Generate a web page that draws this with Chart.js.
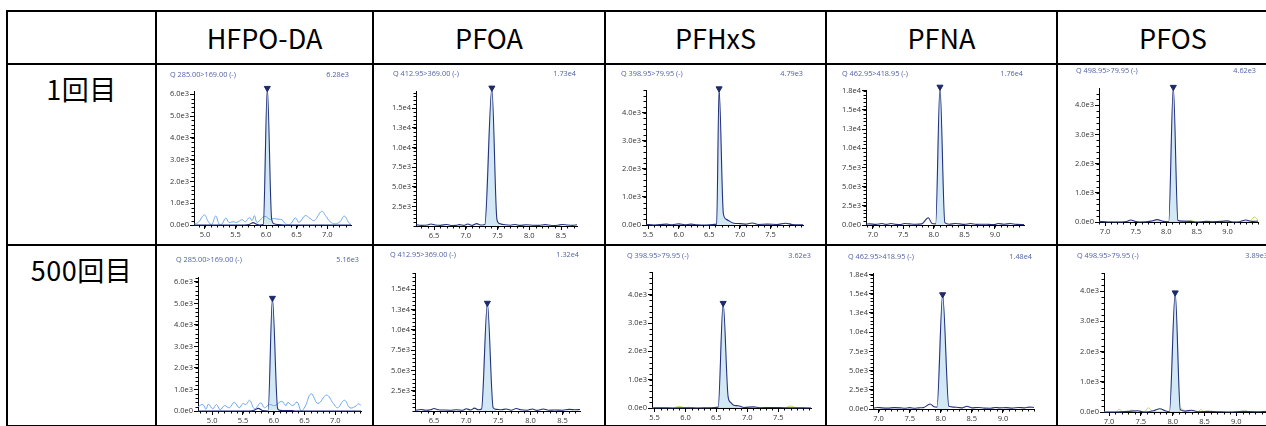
<!DOCTYPE html>
<html>
<head>
<meta charset="utf-8">
<script src="https://cdn.jsdelivr.net/npm/chart.js@4.4.1/dist/chart.umd.min.js"></script>
<style>
  body { margin: 0; width: 1266px; height: 426px; overflow: hidden; background: #fff; position: relative;
         font-family: "Noto Sans CJK JP", "Noto Sans", sans-serif; }
  #grid { position: absolute; left: 6px; top: 10px; display: grid;
          grid-template-columns: 149px 217px 232px 221px 231px 232px;
          grid-template-rows: 53px 181px 181px;
          border-left: 2px solid #000; border-top: 2px solid #000; }
  .cell { box-sizing: border-box; border-right: 2px solid #000; border-bottom: 2px solid #000; }
  .head { display: flex; align-items: center; justify-content: center; font-size: 27px; color: #000; }
  .run { text-align: center; padding-top: 9px; line-height: 30px; font-size: 27px; color: #000; letter-spacing: 0.5px; }
  .chrom { position: absolute; }
  .lbl { position: absolute; font-family: "Open Sans", sans-serif; font-size: 7.3px; line-height: 10px;
         color: #4f5fa5; white-space: nowrap; }
</style>
</head>
<body>
<div id="grid"></div>
<script>
// ---- table text ----
const compounds = ['HFPO-DA', 'PFOA', 'PFHxS', 'PFNA', 'PFOS'];
const runs = ['1回目', '500回目'];
const transitions = ['Q 285.00>169.00 (-)', 'Q 412.95>369.00 (-)', 'Q 398.95>79.95 (-)',
                     'Q 462.95>418.95 (-)', 'Q 498.95>79.95 (-)'];
const maxLabels1 = ['6.28e3', '1.73e4', '4.79e3', '1.76e4', '4.62e3'];
const maxLabels2 = ['5.16e3', '1.32e4', '3.62e3', '1.48e4', '3.89e3'];

// ---- tick labels ----
const hfpoXTicks = [5.0, 5.5, 6.0, 6.5, 7.0];
const hfpoYTicks = [0, 1000, 2000, 3000, 4000, 5000, 6000];
const pfoaXTicks = [6.5, 7.0, 7.5, 8.0, 8.5];
const pfoaYTicks = [2500, 5000, 7500, 10000, 12500, 15000];
const pfhxsXTicks = [5.5, 6.0, 6.5, 7.0, 7.5];
const pfhxsYTicks = [0, 1000, 2000, 3000, 4000];
const pfnaXTicks = [7.0, 7.5, 8.0, 8.5, 9.0];
const pfnaYTicks = [0, 2500, 5000, 7500, 10000, 12500, 15000, 17500];
const pfosXTicks = [7.0, 7.5, 8.0, 8.5, 9.0];
const pfosYTicks = [0, 1000, 2000, 3000, 4000];

// ---- traces [time (min), intensity] ----
const hfpo1Main = [[4.82,0],[5.3,0],[5.65,0],[5.72,20],[5.79,110],[5.84,40],[5.9,0],[5.955,30],[6.02,6280],
  [6.09,300],[6.13,60],[6.2,20],[6.3,0],[6.8,0],[7.39,0]];
const hfpo1Noise = [[4.825,50],[4.89,120],[4.99,460],[5.055,150],[5.11,20],[5.175,410],[5.23,50],[5.27,20],
  [5.34,320],[5.39,120],[5.46,150],[5.52,120],[5.61,245],[5.66,150],[5.73,350],[5.77,200],[5.81,430],[5.85,120],
  [5.92,275],[5.98,400],[6.07,250],[6.12,300],[6.17,275],[6.26,240],[6.32,50],[6.39,20],[6.48,320],[6.54,120],
  [6.64,430],[6.72,300],[6.79,200],[6.91,630],[6.98,400],[7.05,150],[7.13,50],[7.21,150],[7.28,410],[7.35,120],[7.39,20]];
const pfoa1Main = [[6.22,150],[6.3,80],[6.4,120],[6.45,250],[6.52,120],[6.6,80],[6.7,200],[6.78,60],[6.85,80],
  [6.9,180],[6.97,80],[7.03,250],[7.1,80],[7.17,300],[7.23,120],[7.3,200],[7.41,17600],[7.49,800],[7.53,300],
  [7.62,150],[7.7,100],[7.78,200],[7.85,80],[7.95,150],[8.05,100],[8.15,80],[8.25,180],[8.35,60],[8.45,100],
  [8.52,200],[8.6,120],[8.68,80],[8.75,150]];
const pfhxs1Main = [[5.467,20],[5.6,0],[5.8,30],[5.9,10],[6.0,40],[6.1,10],[6.2,30],[6.3,10],[6.45,0],[6.62,30],
  [6.66,4850],[6.73,400],[6.78,200],[6.9,60],[7.0,50],[7.1,30],[7.2,70],[7.3,20],[7.45,30],[7.6,20],[7.75,60],
  [7.85,20],[8.03,10]];
const pfna1Main = [[6.89,100],[6.95,150],[7.05,80],[7.15,200],[7.22,80],[7.3,200],[7.38,80],[7.45,50],[7.52,200],
  [7.6,150],[7.7,100],[7.8,150],[7.91,950],[7.97,200],[8.03,150],[8.1,18000],[8.18,300],[8.25,100],[8.35,200],
  [8.42,150],[8.5,80],[8.6,200],[8.7,80],[8.8,100],[8.9,80],[9.0,60],[9.05,200],[9.15,100],[9.25,200],[9.35,80],[9.475,60]];
const pfos1Main = [[6.9,20],[7.05,0],[7.2,0],[7.35,20],[7.42,70],[7.5,20],[7.6,0],[7.75,30],[7.85,80],[7.95,20],
  [8.04,10],[8.115,4620],[8.19,60],[8.25,30],[8.4,20],[8.5,0],[8.65,20],[8.75,10],[8.9,20],[9.0,40],[9.1,0],
  [9.2,10],[9.3,70],[9.4,20],[9.5,30]];
const pfos1Ion = [[6.9,0],[8.3,0],[8.4,50],[8.5,0],[8.6,0],[8.7,30],[8.8,0],[9.35,0],[9.44,170],[9.5,60]];

const hfpo2Main = [[4.77,0],[5.6,0],[5.68,30],[5.75,124],[5.82,20],[5.91,0],[5.98,5250],[6.065,100],[6.1,30],
  [6.2,20],[6.3,20],[6.35,0],[7.42,0]];
const hfpo2Noise = [[4.77,200],[4.85,300],[4.9,80],[4.94,320],[5.01,100],[5.07,300],[5.13,60],[5.2,250],[5.28,150],
  [5.36,400],[5.44,150],[5.5,350],[5.55,300],[5.61,500],[5.69,100],[5.79,380],[5.85,150],[5.93,300],[6.02,250],
  [6.13,450],[6.2,250],[6.23,400],[6.31,250],[6.38,420],[6.45,0],[6.51,200],[6.61,800],[6.72,350],[6.86,740],
  [6.97,350],[7.04,150],[7.15,500],[7.24,150],[7.32,200],[7.38,330],[7.42,250]];
const pfoa2Main = [[6.205,100],[6.3,180],[6.37,100],[6.45,160],[6.5,300],[6.57,150],[6.65,120],[6.75,100],[6.85,150],
  [6.95,100],[7.0,280],[7.07,120],[7.13,350],[7.19,150],[7.24,250],[7.33,13300],[7.42,400],[7.47,200],[7.55,150],
  [7.62,250],[7.7,100],[7.78,300],[7.85,150],[7.95,100],[8.03,250],[8.1,80],[8.2,250],[8.28,100],[8.38,120],
  [8.5,100],[8.6,200],[8.7,150],[8.77,180]];
const pfhxs2Main = [[5.46,0],[5.6,10],[5.8,0],[6.0,10],[6.2,0],[6.4,10],[6.53,30],[6.61,3700],[6.69,400],[6.73,200],
  [6.78,100],[6.85,80],[6.95,20],[7.1,40],[7.2,10],[7.4,20],[7.6,10],[8.03,0]];
const pfhxs2Ion = [[5.46,0],[5.8,0],[5.9,60],[6.0,0],[6.05,30],[6.1,0],[7.6,0],[7.7,70],[7.8,0],[8.03,0]];
const pfna2Main = [[6.91,100],[6.98,200],[7.05,150],[7.15,120],[7.25,180],[7.35,150],[7.42,100],[7.5,180],[7.58,100],
  [7.65,150],[7.72,180],[7.83,650],[7.89,300],[7.94,250],[8.03,14900],[8.13,350],[8.2,250],[8.28,200],[8.35,150],
  [8.42,350],[8.5,150],[8.6,200],[8.7,120],[8.8,100],[8.88,200],[8.95,150],[9.05,180],[9.15,120],[9.25,200],
  [9.35,150],[9.42,250],[9.5,200]];
const pfos2Main = [[6.92,0],[7.1,0],[7.3,20],[7.45,40],[7.55,0],[7.7,40],[7.8,110],[7.88,40],[7.95,10],[8.04,3950],
  [8.12,80],[8.2,30],[8.3,60],[8.4,10],[8.55,20],[8.7,10],[8.9,0],[9.1,20],[9.3,10],[9.5,20]];
const pfos2Ion = [[6.92,0],[7.1,0],[7.16,90],[7.22,0],[7.3,0],[7.35,70],[7.42,0],[7.55,0],[7.62,140],[7.7,0],
  [8.1,0],[8.14,120],[8.2,0],[8.4,0],[8.44,80],[8.5,0],[9.1,0],[9.15,40],[9.2,0],[9.5,0]];

// integrated peak windows [start, end]
const peaks1 = [[5.955,6.13],[7.3,7.53],[6.62,6.9],[8.03,8.18],[8.04,8.19]];
const peaks2 = [[5.91,6.1],[7.24,7.47],[6.53,6.85],[7.94,8.13],[7.95,8.12]];

// ---- layout (page pixels) ----
const colX = [[157,372],[374,604],[606,825],[827,1056],[1058,1288]];
const rowY = [[65,244],[246,425]];
// plot: [left, top, right, bottom], title: [leftX, rightX, centerY]
const frames = [
  [ {plot:[194,91,351,225], title:[170,349,74], x:[4.82,7.39], yMax:6150},
    {plot:[416,91,577,226], title:[393,576,73], x:[6.216,8.75], yMax:17200},
    {plot:[646,90,803,225], title:[621,803,73], x:[5.467,8.03], yMax:4800},
    {plot:[866,90,1024,225], title:[842,1023,73], x:[6.89,9.475], yMax:17600},
    {plot:[1099,88,1258,222], title:[1076,1256,70], x:[6.9,9.5], yMax:4590} ],
  [ {plot:[198,277,361,411], title:[176,359,259], x:[4.77,7.42], yMax:6230},
    {plot:[415,273,580,411], title:[390,579,254], x:[6.205,8.77], yMax:17000},
    {plot:[652,272,811,408], title:[627,811,255], x:[5.46,8.03], yMax:4800},
    {plot:[873,273,1034,409], title:[848,1032,256], x:[6.91,9.5], yMax:17700},
    {plot:[1104,273,1268,412], title:[1077,1268,255], x:[6.92,9.5], yMax:4600} ]
];

const xTicks = [hfpoXTicks, pfoaXTicks, pfhxsXTicks, pfnaXTicks, pfosXTicks];
const yTicks = [hfpoYTicks, pfoaYTicks, pfhxsYTicks, pfnaYTicks, pfosYTicks];
const yMinor = [200, 500, 200, 500, 200];
const mains = [[hfpo1Main, pfoa1Main, pfhxs1Main, pfna1Main, pfos1Main],
               [hfpo2Main, pfoa2Main, pfhxs2Main, pfna2Main, pfos2Main]];
const noises = [[hfpo1Noise, null, null, null, null], [hfpo2Noise, null, null, null, null]];
const ions = [[null, null, null, null, pfos1Ion], [null, null, pfhxs2Ion, null, pfos2Ion]];
const peakWins = [peaks1, peaks2];
const maxLabels = [maxLabels1, maxLabels2];

// ---- table ----
const grid = document.getElementById('grid');
function addCell(cls, text) {
  const d = document.createElement('div');
  d.className = 'cell ' + cls;
  d.textContent = text;
  grid.appendChild(d);
}
addCell('head', '');
compounds.forEach(c => addCell('head', c));
runs.forEach(r => {
  addCell('run', r);
  compounds.forEach(() => addCell('', ''));
});

// minor ticks, drawn with the chart's own scales
const minorTicks = {
  id: 'minorTicks',
  afterDraw(chart, args, opts) {
    const { ctx, chartArea } = chart;
    const xs = chart.scales.x, ys = chart.scales.y;
    ctx.save();
    ctx.strokeStyle = '#000';
    ctx.lineWidth = 1;
    ctx.beginPath();
    const i0 = Math.ceil(xs.min / opts.x - 1e-6);
    for (let i = i0; i * opts.x <= xs.max + 1e-6; i++) {
      const px = Math.round(xs.getPixelForValue(i * opts.x)) + 0.5;
      ctx.moveTo(px, chartArea.bottom);
      ctx.lineTo(px, chartArea.bottom + 2.5);
    }
    for (let i = 0; i * opts.y <= ys.max; i++) {
      const py = Math.round(ys.getPixelForValue(i * opts.y)) + 0.5;
      ctx.moveTo(chartArea.left - 2.5, py);
      ctx.lineTo(chartArea.left, py);
    }
    ctx.stroke();
    ctx.restore();
  }
};

const pts = arr => arr.map(([x, y]) => ({ x, y }));

function addLabel(text, left, cy, alignRight) {
  const s = document.createElement('div');
  s.className = 'lbl';
  s.textContent = text;
  s.style.top = (cy - 5) + 'px';
  if (alignRight) {
    s.style.left = (left - 80) + 'px';
    s.style.width = '80px';
    s.style.textAlign = 'right';
  } else {
    s.style.left = left + 'px';
  }
  document.body.appendChild(s);
}

function drawChrom(r, c) {
  const f = frames[r][c];
  const box = { l: colX[c][0], r: colX[c][1], t: rowY[r][0], b: rowY[r][1] };
  const wrap = document.createElement('div');
  wrap.className = 'chrom';
  wrap.style.left = box.l + 'px';
  wrap.style.top = box.t + 'px';
  wrap.style.width = (box.r - box.l) + 'px';
  wrap.style.height = (box.b - box.t) + 'px';
  const cv = document.createElement('canvas');
  wrap.appendChild(cv);
  document.body.appendChild(wrap);

  addLabel(transitions[c], f.title[0], f.title[2], false);
  addLabel(maxLabels[r][c], f.title[1], f.title[2], true);

  const main = mains[r][c];
  const [ps, pe] = peakWins[r][c];
  const apex = main.reduce((a, p) => (p[1] > a[1] ? p : a));

  const datasets = [
    { data: pts([apex]), showLine: false, pointStyle: 'triangle', rotation: 180, pointRadius: 3.5,
      backgroundColor: '#1c2a6a', borderColor: '#1c2a6a', borderWidth: 1, clip: false },
    { data: pts(main), borderColor: '#24327e', borderWidth: 1.1, pointRadius: 0,
      cubicInterpolationMode: 'monotone', clip: false }
  ];
  if (noises[r][c]) {
    datasets.push({ data: pts(noises[r][c]), borderColor: '#6aa8f0', borderWidth: 1, pointRadius: 0, tension: 0.4 });
  }
  if (ions[r][c]) {
    datasets.push({ data: pts(ions[r][c]), borderColor: '#c5d45c', borderWidth: 1, pointRadius: 0,
      cubicInterpolationMode: 'monotone' });
  }
  datasets.push({ data: pts(main.filter(p => p[0] >= ps && p[0] <= pe)), fill: 'origin',
    backgroundColor: '#d3e8f5', borderWidth: 0, pointRadius: 0, cubicInterpolationMode: 'monotone', clip: false });

  const tickFont = { family: 'Open Sans', size: 7.5 };
  new Chart(cv, {
    type: 'line',
    data: { datasets },
    options: {
      responsive: true,
      maintainAspectRatio: false,
      animation: false,
      layout: { padding: { left: 0, top: f.plot[1] - box.t, right: box.r - f.plot[2], bottom: 0 } },
      plugins: { legend: { display: false }, tooltip: { enabled: false }, minorTicks: { x: 0.1, y: yMinor[c] } },
      scales: {
        x: {
          type: 'linear', min: f.x[0], max: f.x[1],
          afterBuildTicks: s => { s.ticks = xTicks[c].map(v => ({ value: v })); },
          afterFit: s => { s.height = box.b - f.plot[3]; },
          grid: { drawOnChartArea: false, tickLength: 4, color: '#000' },
          border: { color: '#000', width: 1 },
          ticks: { font: tickFont, color: '#333', padding: 1, maxRotation: 0, autoSkip: false,
                   callback: v => Number(v).toFixed(1) }
        },
        y: {
          type: 'linear', min: 0, max: f.yMax,
          afterBuildTicks: s => { s.ticks = yTicks[c].map(v => ({ value: v })); },
          afterFit: s => { s.width = f.plot[0] - box.l; },
          grid: { drawOnChartArea: false, tickLength: 4, color: '#000' },
          border: { color: '#000', width: 1 },
          ticks: { font: tickFont, color: '#333', padding: 1,
                   callback: v => Number(v).toExponential(1).replace('+', '') }
        }
      }
    },
    plugins: [minorTicks]
  });
}

for (let r = 0; r < runs.length; r++) {
  for (let c = 0; c < compounds.length; c++) drawChrom(r, c);
}
</script>
</body>
</html>
